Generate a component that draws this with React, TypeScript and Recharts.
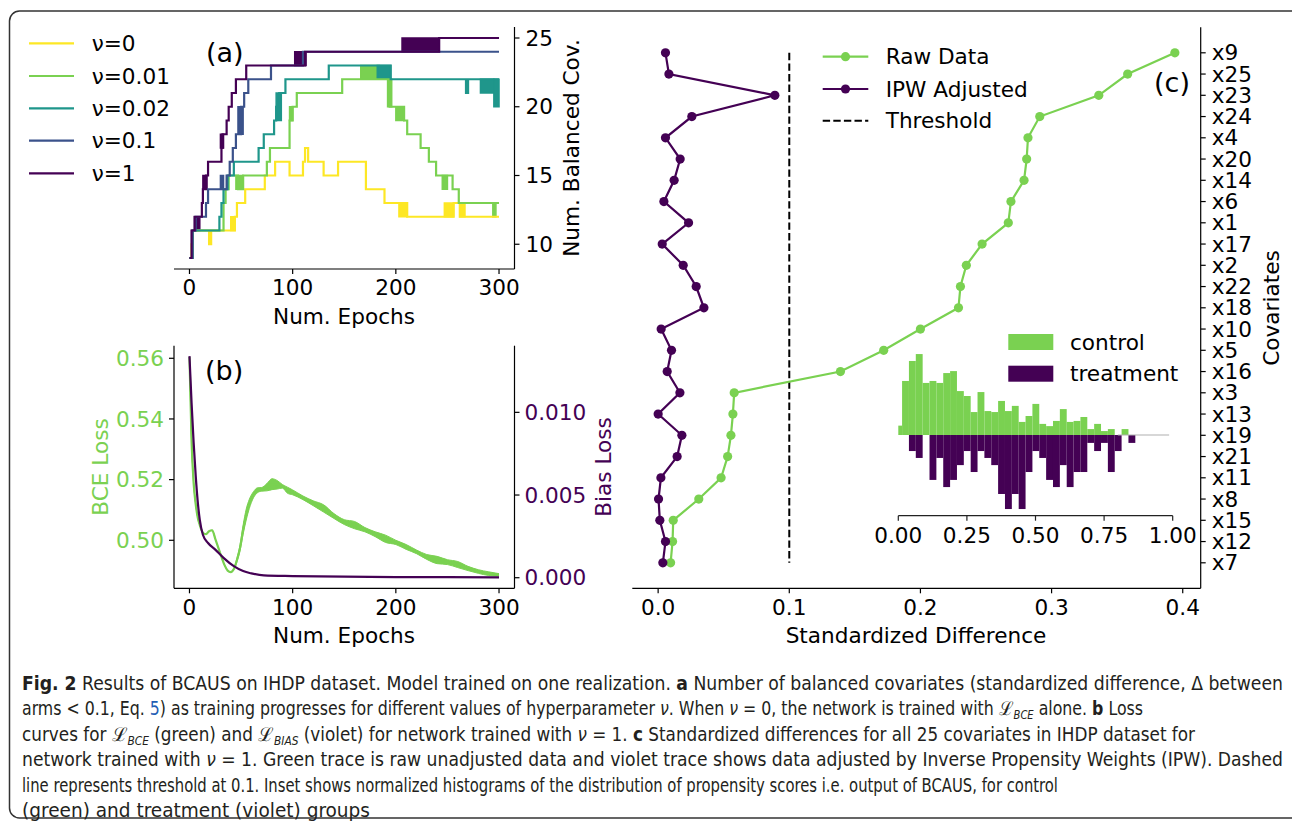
import React from 'react';
import {
  LineChart,
  Line,
  XAxis,
  YAxis,
  ReferenceArea,
  ComposedChart,
  Area,
  Bar,
  ReferenceLine,
} from 'recharts';

const FONT = "'DejaVu Sans', Verdana, sans-serif";
const CAP_FONT = "'DejaVu Sans Condensed', 'DejaVu Sans', sans-serif";
const FS = 21.6;
const GREEN = '#7ad151';
const PURPLE = '#440154';

// ---------------- panel (a) ----------------
const nuLabels = ['ν=0', 'ν=0.01', 'ν=0.02', 'ν=0.1', 'ν=1'];
const nuColors = ['#fde725', '#7ad151', '#1f968b', '#3b528b', '#440154'];
const epochTicks = [0, 100, 200, 300];
const balancedTicks = [10, 15, 20, 25];

// [epoch, number of balanced covariates] change points
const stepsNu0 = [[0, 9], [2, 10], [3, 11], [19, 10], [21, 11], [44, 12], [46, 13], [54, 14], [73, 15], [83, 16], [97, 15], [110, 16], [112, 17], [115, 16], [130, 15], [144, 16], [171, 14], [189, 13], [211, 12], [256, 13], [262, 12], [300, 12]];
const stepsNu001 = [[0, 9], [3, 11], [33, 13], [35, 14], [38, 15], [47, 14], [52, 15], [75, 16], [78, 17], [97, 19], [100, 20], [104, 21], [148, 22], [194, 20], [208, 19], [211, 18], [224, 17], [232, 16], [239, 15], [255, 14], [261, 13], [300, 13]];
const stepsNu002 = [[0, 9], [3, 11], [29, 12], [31, 13], [33, 14], [37, 15], [43, 16], [67, 17], [72, 18], [82, 19], [84, 20], [87, 21], [93, 22], [135, 23], [195, 22], [268, 21], [270, 22], [300, 22]];
const stepsNu01 = [[0, 9], [3, 11], [6, 12], [16, 13], [18, 14], [36, 15], [39, 16], [42, 17], [45, 18], [50, 20], [53, 21], [57, 22], [79, 23], [110, 24], [300, 24]];
const stepsNu1 = [[0, 9], [2, 11], [5, 12], [12, 13], [13, 14], [16, 15], [18, 16], [31, 17], [32, 18], [36, 19], [38, 20], [41, 21], [45, 22], [55, 23], [112, 24], [242, 25], [300, 25]];

// [epochFrom, epochTo, low, high] spans where the count flickers every epoch
const jitterNu0 = [[40, 44, 11, 12], [203, 211, 12, 13], [247, 256, 12, 13], [262, 267, 12, 13]];
const jitterNu001 = [[45, 52, 14, 15], [97, 100, 19, 20], [166, 184, 22, 23], [192, 196, 20, 22], [200, 208, 19, 20], [245, 250, 14, 15], [294, 297, 12, 13]];
const jitterNu002 = [[84, 89, 19, 21], [182, 195, 22, 23], [282, 295, 21, 22], [295, 300, 20, 22]];
const jitterNu01 = [[5, 8, 11, 12], [30, 33, 14, 15], [47, 52, 18, 20]];
const jitterNu1 = [[5, 10, 11, 12], [13, 17, 14, 15], [30, 33, 17, 18], [102, 113, 23, 24], [206, 242, 24, 25]];

// ---------------- panel (b) ----------------
const bceTicks = [0.5, 0.52, 0.54, 0.56];
const biasTicks = [0, 0.005, 0.01];
const bceEpochs = [0, 2, 4, 6, 8, 10, 13, 16, 19, 22, 25, 28, 31, 34, 37, 40, 43, 46, 49, 52, 55, 58, 62, 66, 70, 75, 80, 85, 90, 95, 100, 110, 120, 130, 140, 150, 160, 170, 180, 190, 200, 210, 220, 230, 240, 250, 260, 270, 280, 290, 300];
const bceValues = [0.5604, 0.533, 0.519, 0.512, 0.5075, 0.505, 0.5025, 0.502, 0.503, 0.5033, 0.5005, 0.4975, 0.4945, 0.4918, 0.49, 0.4895, 0.4905, 0.4935, 0.4975, 0.5035, 0.5085, 0.512, 0.515, 0.5165, 0.5168, 0.5175, 0.5185, 0.5183, 0.5178, 0.5165, 0.5158, 0.514, 0.5122, 0.5105, 0.508, 0.506, 0.505, 0.5035, 0.502, 0.5005, 0.4993, 0.4978, 0.4962, 0.4945, 0.4935, 0.4928, 0.492, 0.4907, 0.4897, 0.489, 0.4886];
const bceJitter = [0, 0, 0, 0, 0, 0, 0, 0, 0, 0, 0, 0, 0, 0, 0, 0, 0.0002, 0.0006, 0.001, 0.0015, 0.0018, 0.0015, 0.001, 0.0008, 0.0006, 0.0012, 0.0018, 0.0014, 0.0006, 0.001, 0.0008, 0.0006, 0.0008, 0.0012, 0.0008, 0.0008, 0.0012, 0.0007, 0.0008, 0.0012, 0.0007, 0.0008, 0.0006, 0.0008, 0.0012, 0.0008, 0.001, 0.0007, 0.0006, 0.0006, 0.0004];
const biasEpochs = [0, 2, 4, 6, 8, 10, 13, 18, 25, 33, 43, 52, 60, 72, 100, 150, 200, 250, 300];
const biasValues = [0.0134, 0.0106, 0.0082, 0.0062, 0.0046, 0.0035, 0.0026, 0.0021, 0.0017, 0.0012, 0.0007, 0.0004, 0.00026, 0.00014, 0.0001, 0.00006, 0.00004, 0.00003, 0.00002];

// ---------------- panel (c) ----------------
const covariates = ['x9', 'x25', 'x23', 'x24', 'x4', 'x20', 'x14', 'x6', 'x1', 'x17', 'x2', 'x22', 'x18', 'x10', 'x5', 'x16', 'x3', 'x13', 'x19', 'x21', 'x11', 'x8', 'x15', 'x12', 'x7'];
const rawDiff = [0.394, 0.358, 0.336, 0.291, 0.282, 0.281, 0.279, 0.269, 0.267, 0.247, 0.235, 0.2305, 0.229, 0.2, 0.172, 0.139, 0.058, 0.057, 0.0555, 0.053, 0.048, 0.031, 0.0115, 0.011, 0.0095];
const ipwDiff = [0.0056, 0.0082, 0.089, 0.0257, 0.0056, 0.0168, 0.0122, 0.0044, 0.0232, 0.0031, 0.0191, 0.029, 0.0349, 0.0023, 0.0102, 0.0069, 0.0166, 0.0, 0.0181, 0.0145, 0.0021, 0.0003, 0.0013, 0.0056, 0.0036];
const diffTicks = [0, 0.1, 0.2, 0.3, 0.4];
const thresholdValue = 0.1;

// ---------------- inset histogram ----------------
const binCenters = [0.001, 0.026, 0.051, 0.076, 0.101, 0.126, 0.151, 0.176, 0.201, 0.226, 0.251, 0.276, 0.301, 0.326, 0.351, 0.376, 0.401, 0.426, 0.451, 0.476, 0.501, 0.526, 0.551, 0.576, 0.601, 0.626, 0.651, 0.676, 0.701, 0.726, 0.751, 0.776, 0.801, 0.826, 0.851];
const controlDensity = [0.38, 2.19, 3.0, 3.28, 2.11, 2.19, 2.11, 2.51, 2.59, 1.78, 1.58, 0.93, 1.74, 0.97, 0.93, 1.38, 0.97, 1.18, 0.53, 0.77, 1.26, 0.45, 0.36, 0.57, 1.05, 0.53, 0.57, 0.73, 0.24, 0.45, 0.16, 0.24, 0, 0.24, 0];
const treatmentDensity = [0, 0, 0.65, 0.93, 0, 1.82, 0.93, 2.11, 1.82, 1.22, 0.65, 1.5, 0.65, 0.93, 1.22, 2.39, 3.0, 2.39, 3.0, 1.5, 0.65, 0.93, 1.82, 2.11, 1.22, 2.11, 1.5, 1.5, 0.32, 0.65, 0.32, 1.5, 0.65, 0, 0.32];
const scoreTicks = [0, 0.25, 0.5, 0.75, 1];

// ---------------- caption ----------------
type Seg = { t: string; b?: boolean; i?: boolean; c?: string; sub?: boolean; L?: boolean };
const captionLines: { segs: Seg[]; width: number }[] = [
  { width: 1261, segs: [{ t: 'Fig. 2', b: true }, { t: ' Results of BCAUS on IHDP dataset. Model trained on one realization. ' }, { t: 'a', b: true }, { t: ' Number of balanced covariates (standardized difference, Δ between' }] },
  { width: 1121, segs: [{ t: 'arms < 0.1, Eq. ' }, { t: '5', c: '#1f5fb5' }, { t: ') as training progresses for different values of hyperparameter ' }, { t: 'ν', i: true }, { t: '. When ' }, { t: 'ν', i: true }, { t: ' = 0, the network is trained with ' }, { t: 'ℒ', L: true }, { t: 'BCE', i: true, sub: true }, { t: ' alone. ' }, { t: 'b', b: true }, { t: ' Loss' }] },
  { width: 1173, segs: [{ t: 'curves for ' }, { t: 'ℒ', L: true }, { t: 'BCE', i: true, sub: true }, { t: ' (green) and ' }, { t: 'ℒ', L: true }, { t: 'BIAS', i: true, sub: true }, { t: ' (violet) for network trained with ' }, { t: 'ν', i: true }, { t: ' = 1. ' }, { t: 'c', b: true }, { t: ' Standardized differences for all 25 covariates in IHDP dataset for' }] },
  { width: 1261, segs: [{ t: 'network trained with ' }, { t: 'ν', i: true }, { t: ' = 1. Green trace is raw unadjusted data and violet trace shows data adjusted by Inverse Propensity Weights (IPW). Dashed' }] },
  { width: 1036, segs: [{ t: 'line represents threshold at 0.1. Inset shows normalized histograms of the distribution of propensity scores i.e. output of BCAUS, for control' }] },
  { width: 348, segs: [{ t: '(green) and treatment (violet) groups' }] },
];

const tickStyle = { fontSize: FS, fill: '#000', fontFamily: FONT };
const axisLineStyle = { stroke: '#000', strokeWidth: 1.2 };
const HIST_BAR_PX = 6.86;

function HistBar(p: any) {
  const { x, y, width, height, fill } = p;
  if (!height || !isFinite(height) || !isFinite(x)) return null;
  const cx = x + width / 2;
  const top = height < 0 ? y + height : y;
  return <rect x={cx - HIST_BAR_PX / 2} y={top} width={HIST_BAR_PX} height={Math.abs(height)} fill={fill} />;
}

function PanelA() {
  const series = [stepsNu0, stepsNu001, stepsNu002, stepsNu01, stepsNu1];
  const jitters = [jitterNu0, jitterNu001, jitterNu002, jitterNu01, jitterNu1];
  return (
    <LineChart width={640} height={330} margin={{ top: 27, left: 174, right: 65.5, bottom: 21 }}>
      <XAxis xAxisId="b" dataKey="e" type="number" domain={[-15, 315]} ticks={epochTicks} height={40} interval={0}
        tick={tickStyle} tickSize={5} tickMargin={6} tickLine={axisLineStyle} axisLine={axisLineStyle} />
      <XAxis xAxisId="t" orientation="top" type="number" domain={[-15, 315]} ticks={[]} tick={false} tickLine={false}
        height={0} axisLine={axisLineStyle} />
      <YAxis yAxisId="r" orientation="right" type="number" domain={[8.2, 25.8]} ticks={balancedTicks} width={60} interval={0}
        tick={tickStyle} tickSize={5} tickMargin={6} tickLine={axisLineStyle} axisLine={axisLineStyle} />
      <YAxis yAxisId="l" orientation="left" type="number" domain={[0, 1]} ticks={[]} tick={false} tickLine={false}
        width={0} axisLine={axisLineStyle} />
      {jitters.map((list, si) =>
        list.map((j, k) => (
          <ReferenceArea key={`j${si}-${k}`} xAxisId="b" yAxisId="r" x1={j[0]} x2={j[1]} y1={j[2]} y2={j[3]}
            fill={nuColors[si]} fillOpacity={1} stroke={nuColors[si]} strokeWidth={1.5} ifOverflow="visible" />
        ))
      )}
      {series.map((s, si) => (
        <Line key={si} xAxisId="b" yAxisId="r" data={s.map(([e, v]) => ({ e, v }))} dataKey="v" type="stepAfter"
          stroke={nuColors[si]} strokeWidth={2.2} dot={false} isAnimationActive={false} />
      ))}
    </LineChart>
  );
}

function PanelB() {
  const rows = bceEpochs.map((e, i) => ({
    e,
    bce: bceValues[i],
    band: [bceValues[i] - bceJitter[i], bceValues[i] + bceJitter[i]],
  }));
  const biasRows = biasEpochs.map((e, i) => ({ e, bias: biasValues[i] }));
  return (
    <ComposedChart width={640} height={330} data={rows} margin={{ top: 15.7, left: 114, right: 65.5, bottom: 31.7 }}>
      <XAxis xAxisId="b" dataKey="e" type="number" domain={[-15, 315]} ticks={epochTicks} height={40} interval={0}
        tick={tickStyle} tickSize={5} tickMargin={6} tickLine={axisLineStyle} axisLine={axisLineStyle} />
      <XAxis xAxisId="t" orientation="top" type="number" domain={[-15, 315]} ticks={[]} tick={false} tickLine={false}
        height={0} axisLine={axisLineStyle} />
      <YAxis yAxisId="l" orientation="left" type="number" domain={[0.48417, 0.56415]} ticks={bceTicks} width={60} interval={0}
        tickFormatter={(v: number) => v.toFixed(2)} tick={{ ...tickStyle, fill: GREEN }} tickSize={5} tickMargin={5}
        tickLine={axisLineStyle} axisLine={axisLineStyle} />
      <YAxis yAxisId="r" orientation="right" type="number" domain={[-0.00064, 0.01403]} ticks={biasTicks} width={60} interval={0}
        tickFormatter={(v: number) => v.toFixed(3)} tick={{ ...tickStyle, fill: PURPLE }} tickSize={5} tickMargin={5}
        tickLine={axisLineStyle} axisLine={axisLineStyle} />
      <Area xAxisId="b" yAxisId="l" dataKey="band" type="monotone" stroke={GREEN} strokeWidth={1} fill={GREEN}
        fillOpacity={1} isAnimationActive={false} dot={false} activeDot={false} />
      <Line xAxisId="b" yAxisId="l" dataKey="bce" type="monotone" stroke={GREEN} strokeWidth={2.2} dot={false}
        isAnimationActive={false} />
      <Line xAxisId="b" yAxisId="r" data={biasRows} dataKey="bias" type="monotone" stroke={PURPLE} strokeWidth={2.2}
        dot={false} isAnimationActive={false} />
    </ComposedChart>
  );
}

function PanelC() {
  const rows = covariates.map((c, i) => ({ idx: i, name: c, raw: rawDiff[i], ipw: ipwDiff[i] }));
  const thrRows = [{ idx: 0, thr: thresholdValue }, { idx: covariates.length - 1, thr: thresholdValue }];
  return (
    <LineChart layout="vertical" width={672} height={660} data={rows}
      margin={{ top: 27.3, left: 12.3, right: 31.3, bottom: 31.7 }}>
      <XAxis xAxisId="b" type="number" domain={[-0.0197, 0.4137]} ticks={diffTicks} height={40} interval={0}
        tickFormatter={(v: number) => v.toFixed(1)} tick={tickStyle} tickSize={5} tickMargin={6}
        tickLine={axisLineStyle} axisLine={axisLineStyle} />
      <XAxis xAxisId="t" orientation="top" type="number" domain={[0, 1]} ticks={[]} tick={false} tickLine={false}
        height={0} axisLine={axisLineStyle} />
      <YAxis yAxisId="r" orientation="right" type="number" dataKey="idx" domain={[-1.2, 25.2]}
        ticks={covariates.map((_, i) => i)} interval={0} tickFormatter={(i: number) => covariates[i] ?? ''} width={60}
        tick={tickStyle} tickSize={5} tickMargin={6} tickLine={axisLineStyle} axisLine={axisLineStyle} />
      <YAxis yAxisId="l" orientation="left" type="number" domain={[0, 1]} ticks={[]} tick={false} tickLine={false}
        width={0} axisLine={axisLineStyle} />
      <Line xAxisId="b" yAxisId="r" data={thrRows} dataKey="thr" stroke="#000" strokeWidth={2}
        strokeDasharray="7.4 3.2" dot={false} isAnimationActive={false} />
      <Line xAxisId="b" yAxisId="r" dataKey="raw" stroke={GREEN} strokeWidth={2.2} isAnimationActive={false}
        dot={{ r: 4.6, fill: GREEN, stroke: GREEN, strokeWidth: 0 }} activeDot={false} />
      <Line xAxisId="b" yAxisId="r" dataKey="ipw" stroke={PURPLE} strokeWidth={2.2} isAnimationActive={false}
        dot={{ r: 4.6, fill: PURPLE, stroke: PURPLE, strokeWidth: 0 }} activeDot={false} />
    </LineChart>
  );
}

function Inset() {
  const rows = binCenters.map((b, i) => ({ bin: b, control: controlDensity[i], treatment: -treatmentDensity[i] }));
  return (
    <ComposedChart width={350} height={230} data={rows} stackOffset="sign" barCategoryGap={0} barGap={0}
      margin={{ top: 11.1, left: 48.3, right: 27.3, bottom: 14.3 }}>
      <XAxis dataKey="bin" type="number" domain={[0, 1]} allowDataOverflow ticks={scoreTicks} height={40} interval={0}
        tickFormatter={(v: number) => v.toFixed(2)} tick={tickStyle} tickSize={5} tickMargin={7}
        tickLine={{ stroke: '#222', strokeWidth: 1.2 }} axisLine={{ stroke: '#222', strokeWidth: 1.2 }} />
      <YAxis hide type="number" domain={[-3.27, 3.4]} />
      <ReferenceLine segment={[{ x: 0.8, y: 0 }, { x: 0.987, y: 0 }]} stroke="#b0b0b0" strokeWidth={1.2} />
      <Bar dataKey="control" stackId="h" fill={GREEN} shape={HistBar} isAnimationActive={false} />
      <Bar dataKey="treatment" stackId="h" fill={PURPLE} shape={HistBar} isAnimationActive={false} />
    </ComposedChart>
  );
}

function Overlay() {
  const legendA = nuLabels.map((l, i) => ({ l, c: nuColors[i], y: [43.3, 76, 108.3, 140.7, 173.3][i] }));
  return (
    <svg width={1292} height={822} style={{ position: 'absolute', left: 0, top: 0, pointerEvents: 'none' }}
      fontFamily={FONT}>
      <rect x={9.5} y={11} width={1300} height={807} rx={10} ry={10} fill="none" stroke="#333" strokeWidth={1.5} />
      {/* legend (a) */}
      {legendA.map((e) => (
        <g key={e.l}>
          <line x1={29} x2={74} y1={e.y} y2={e.y} stroke={e.c} strokeWidth={2.2} />
          <text x={91.7} y={e.y} fontSize={FS} dominantBaseline="central" fill="#000">{e.l}</text>
        </g>
      ))}
      {/* panel labels */}
      <text x={206} y={62} fontSize={27} fill="#000">(a)</text>
      <text x={205} y={379.5} fontSize={27} fill="#000">(b)</text>
      <text x={1154} y={91.5} fontSize={27} fill="#000">(c)</text>
      {/* axis labels */}
      <text x={344} y={316} fontSize={FS} textAnchor="middle" dominantBaseline="central">Num. Epochs</text>
      <text x={344} y={635} fontSize={FS} textAnchor="middle" dominantBaseline="central">Num. Epochs</text>
      <text x={571} y={148} fontSize={FS} textAnchor="middle" dominantBaseline="central"
        transform="rotate(-90 571 148)">Num. Balanced Cov.</text>
      <text x={100} y={467} fontSize={FS} textAnchor="middle" dominantBaseline="central" fill={GREEN}
        transform="rotate(-90 100 467)">BCE Loss</text>
      <text x={603} y={467} fontSize={FS} textAnchor="middle" dominantBaseline="central" fill={PURPLE}
        transform="rotate(-90 603 467)">Bias Loss</text>
      <text x={916} y={635} fontSize={FS} textAnchor="middle" dominantBaseline="central">Standardized Difference</text>
      <text x={1271} y={308} fontSize={FS} textAnchor="middle" dominantBaseline="central"
        transform="rotate(-90 1271 308)">Covariates</text>
      {/* legend (c) */}
      <line x1={822.7} x2={868.3} y1={56.7} y2={56.7} stroke={GREEN} strokeWidth={2.2} />
      <circle cx={845.5} cy={56.7} r={4.6} fill={GREEN} />
      <text x={885.7} y={56.7} fontSize={FS} dominantBaseline="central">Raw Data</text>
      <line x1={822.7} x2={868.3} y1={89} y2={89} stroke={PURPLE} strokeWidth={2.2} />
      <circle cx={845.5} cy={89} r={4.6} fill={PURPLE} />
      <text x={885.7} y={89} fontSize={FS} dominantBaseline="central">IPW Adjusted</text>
      <line x1={822.7} x2={868.3} y1={120.7} y2={120.7} stroke="#000" strokeWidth={2} strokeDasharray="7.4 3.2" />
      <text x={885.7} y={120.7} fontSize={FS} dominantBaseline="central">Threshold</text>
      {/* inset legend */}
      <rect x={1008.3} y={334} width={45} height={16} fill={GREEN} />
      <text x={1070} y={342.3} fontSize={FS} dominantBaseline="central">control</text>
      <rect x={1008.3} y={365.7} width={45} height={16} fill={PURPLE} />
      <text x={1070} y={373.5} fontSize={FS} dominantBaseline="central">treatment</text>
      {/* caption */}
      {captionLines.map((line, li) => (
        <text key={li} x={22} y={690 + li * 25.4} fontFamily={CAP_FONT} fontSize={19} fill="#231f20"
          textLength={line.width} lengthAdjust="spacingAndGlyphs">
          {line.segs.map((s, si) => (
            <tspan key={si} fontWeight={s.b ? 'bold' : 'normal'} fontStyle={s.i ? 'italic' : 'normal'}
              fill={s.c ?? '#231f20'} fontSize={s.sub ? 12 : 19} baselineShift={s.sub ? '-4' : undefined}
              fontFamily={s.L ? "'DejaVu Serif', serif" : undefined}>
              {s.t}
            </tspan>
          ))}
        </text>
      ))}
    </svg>
  );
}

export default function App() {
  return (
    <div style={{ position: 'absolute', left: 0, top: 0, width: 1292, height: 822, background: '#fff', overflow: 'hidden', fontFamily: FONT }}>
      <div style={{ position: 'absolute', left: 0, top: 0 }}><PanelA /></div>
      <div style={{ position: 'absolute', left: 0, top: 330 }}><PanelB /></div>
      <div style={{ position: 'absolute', left: 620, top: 0 }}><PanelC /></div>
      <div style={{ position: 'absolute', left: 850, top: 340 }}><Inset /></div>
      <Overlay />
    </div>
  );
}
